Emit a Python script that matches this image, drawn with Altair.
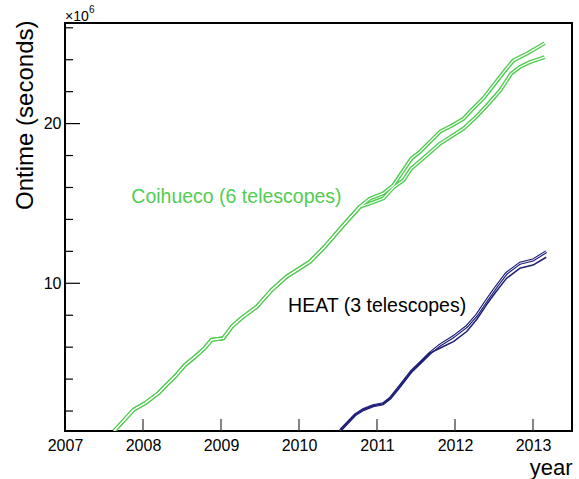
import altair as alt
import pandas as pd

# ---------------- data ----------------
# Coihueco: common part of both bands (years, ontime in 1e6 s)
coi_common_year = [2007.63, 2007.88, 2008.03, 2008.20, 2008.30, 2008.41, 2008.54, 2008.67,
                   2008.79, 2008.88, 2009.03, 2009.14, 2009.26, 2009.46, 2009.65, 2009.84,
                   2010.14, 2010.33, 2010.57, 2010.78]
coi_common_val = [0.75, 2.08, 2.50, 3.13, 3.64, 4.16, 4.89, 5.41,
                  5.94, 6.46, 6.56, 7.29, 7.81, 8.54, 9.58, 10.41,
                  11.35, 12.29, 13.64, 14.79]
# upper Coihueco band after divergence
coi_up_year = [2010.91, 2011.08, 2011.21, 2011.34, 2011.44, 2011.55, 2011.81, 2011.95,
               2012.11, 2012.23, 2012.36, 2012.51, 2012.66, 2012.75, 2012.92, 2013.15]
coi_up_val = [15.31, 15.63, 16.14, 17.08, 17.81, 18.23, 19.50, 19.85,
              20.31, 20.94, 21.56, 22.50, 23.44, 23.96, 24.38, 25.04]
# lower Coihueco band after divergence
coi_lo_year = [2010.91, 2011.08, 2011.21, 2011.34, 2011.44, 2011.59, 2011.81, 2011.91,
               2012.11, 2012.27, 2012.41, 2012.58, 2012.72, 2012.83, 2012.96, 2013.15]
coi_lo_val = [15.00, 15.31, 16.00, 16.46, 17.19, 17.81, 18.75, 19.06,
              19.69, 20.41, 21.14, 22.08, 23.13, 23.54, 23.85, 24.16]

# HEAT: common part
heat_common_year = [2010.53, 2010.72, 2010.82, 2010.95, 2011.08, 2011.17, 2011.29, 2011.44,
                    2011.55, 2011.68]
heat_common_val = [0.79, 1.77, 2.08, 2.33, 2.46, 2.81, 3.54, 4.48, 5.00, 5.63]
heat_up_year = [2011.81, 2011.98, 2012.15, 2012.28, 2012.41, 2012.53, 2012.66, 2012.83,
                2013.00, 2013.17]
heat_up_val = [6.14, 6.66, 7.29, 8.02, 8.96, 9.79, 10.63, 11.25, 11.46, 11.98]
heat_lo_year = [2011.81, 2011.98, 2012.15, 2012.28, 2012.41, 2012.53, 2012.66, 2012.83,
                2013.00, 2013.17]
heat_lo_val = [5.95, 6.35, 6.98, 7.75, 8.70, 9.50, 10.31, 10.94, 11.14, 11.63]

x_tick_years = [2008, 2009, 2010, 2011, 2012, 2013]
x_label_years = [2007, 2008, 2009, 2010, 2011, 2012, 2013]
y_major = [10, 20]
y_minor = [2, 4, 6, 8, 12, 14, 16, 18, 22, 24, 26]

GREEN = "#52cc52"
NAVY = "#1e1e78"
FONT = "Liberation Sans"
W, H = 507, 408

def series(name, years, vals):
    return pd.DataFrame({"year": years, "value": vals, "series": name})

coi = pd.concat([
    series("coi_up", coi_common_year + coi_up_year, coi_common_val + coi_up_val),
    series("coi_lo", coi_common_year + coi_lo_year, coi_common_val + coi_lo_val),
])
heat_up = series("heat_up", heat_common_year + heat_up_year, heat_common_val + heat_up_val)
heat_lo = series("heat_lo", heat_common_year + heat_lo_year, heat_common_val + heat_lo_val)

xs = alt.Scale(domain=[2007, 2013.5], nice=False, zero=False)
ys = alt.Scale(domain=[0.75, 26.3], nice=False, zero=False)

X = alt.X("year:Q", scale=xs,
          axis=alt.Axis(values=x_label_years, format="d", ticks=False, domain=False, grid=False,
                        labelFont=FONT, labelFontSize=16, labelColor="black", labelPadding=6,
                        labelFlush=False, labelOverlap=False,
                        title="year", titleFont=FONT, titleFontSize=22, titleFontWeight="normal",
                        titleColor="black", titleAlign="right", titleBaseline="alphabetic",
                        titleX=W, titleY=43, titleAnchor="end"))
Y = alt.Y("value:Q", scale=ys,
          axis=alt.Axis(values=y_major, ticks=False, domain=False, grid=False,
                        labelFont=FONT, labelFontSize=16, labelColor="black", labelPadding=4,
                        title="Ontime (seconds)", titleFont=FONT, titleFontSize=24,
                        titleFontWeight="normal", titleColor="black", titleAngle=270,
                        titleAlign="right", titleBaseline="alphabetic", titleX=-33, titleY=-3,
                        titleAnchor="end"))

def line(df, color, width):
    return alt.Chart(df).mark_line(color=color, strokeWidth=width, clip=True,
                                   strokeJoin="round").encode(
        x=X, y=Y, detail="series:N", order="year:Q")

layers = [
    line(coi, GREEN, 4.0),
    line(coi, "white", 1.2),
    line(heat_up, NAVY, 3.0),
    line(heat_up, "white", 0.9),
    line(heat_lo, NAVY, 1.5),
]

# inward ticks
xt = alt.Chart(pd.DataFrame({"year": x_tick_years})).mark_rule(color="#333", strokeWidth=1.2).encode(
    x=alt.X("year:Q", scale=xs), y=alt.value(H), y2=alt.value(H - 12))
ytM = alt.Chart(pd.DataFrame({"value": y_major})).mark_rule(color="black", strokeWidth=1.2).encode(
    y=alt.Y("value:Q", scale=ys), x=alt.value(0), x2=alt.value(15))
ytm = alt.Chart(pd.DataFrame({"value": y_minor})).mark_rule(color="black", strokeWidth=1.2).encode(
    y=alt.Y("value:Q", scale=ys), x=alt.value(0), x2=alt.value(8))

# annotations
lab_df = pd.DataFrame({"year": [2007.85], "value": [15.0], "t": ["Coihueco (6 telescopes)"]})
lab_coi = alt.Chart(lab_df).mark_text(font=FONT, fontSize=19.5, color=GREEN, align="left",
                                      baseline="alphabetic").encode(
    x=alt.X("year:Q", scale=xs), y=alt.Y("value:Q", scale=ys), text="t:N")
lab_df2 = pd.DataFrame({"year": [2009.86], "value": [8.21], "t": ["HEAT (3 telescopes)"]})
lab_heat = alt.Chart(lab_df2).mark_text(font=FONT, fontSize=19.5, color="black", align="left",
                                        baseline="alphabetic").encode(
    x=alt.X("year:Q", scale=xs), y=alt.Y("value:Q", scale=ys), text="t:N")

one = pd.DataFrame({"a": [0]})
exp_main = alt.Chart(one).mark_text(text="×10", font=FONT, fontSize=14, color="black",
                                    align="left", baseline="alphabetic").encode(
    x=alt.value(0), y=alt.value(-2))
exp_sup = alt.Chart(one).mark_text(text="6", font=FONT, fontSize=10, color="black",
                                   align="left", baseline="alphabetic").encode(
    x=alt.value(24), y=alt.value(-10))

chart = alt.layer(*layers, xt, ytM, ytm, lab_coi, lab_heat, exp_main, exp_sup).properties(
    width=W, height=H,
    padding={"left": 65, "top": 23, "right": 7, "bottom": 48},
    autosize=alt.AutoSizeParams(type="none"),
    background="white",
).configure_view(stroke="black", strokeWidth=2)

chart.save("out.html", embed_options={"renderer": "svg", "actions": False})
